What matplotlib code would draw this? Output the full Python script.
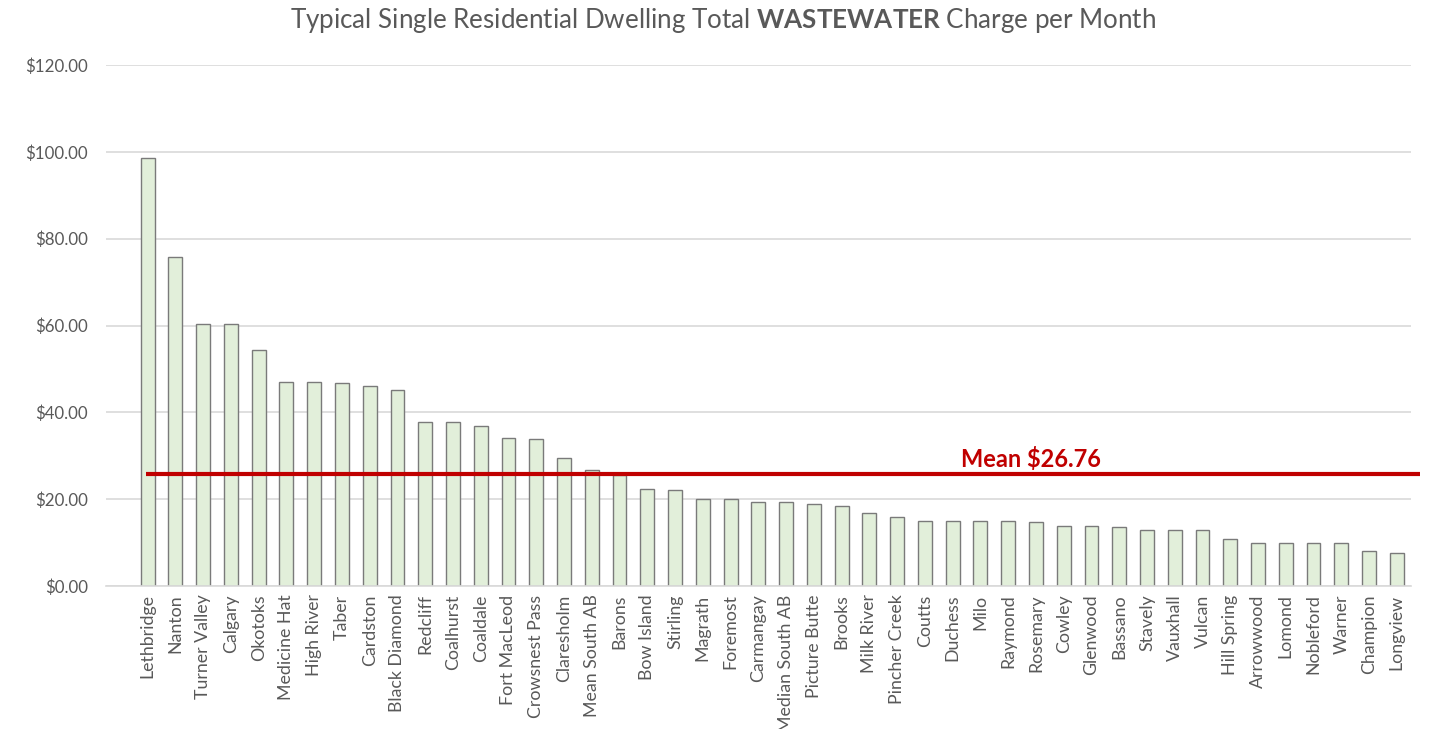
import matplotlib.pyplot as plt
import matplotlib.ticker as ticker

# towns and monthly wastewater charge ($)
towns = ["Lethbridge", "Nanton", "Turner Valley", "Calgary", "Okotoks", "Medicine Hat",
         "High River", "Taber", "Cardston", "Black Diamond", "Redcliff", "Coalhurst",
         "Coaldale", "Fort MacLeod", "Crowsnest Pass", "Claresholm", "Mean South AB",
         "Barons", "Bow Island", "Stirling", "Magrath", "Foremost", "Carmangay",
         "Median South AB", "Picture Butte", "Brooks", "Milk River", "Pincher Creek",
         "Coutts", "Duchess", "Milo", "Raymond", "Rosemary", "Cowley", "Glenwood",
         "Bassano", "Stavely", "Vauxhall", "Vulcan", "Hill Spring", "Arrowwood",
         "Lomond", "Nobleford", "Warner", "Champion", "Longview"]
charges = [98.5, 75.8, 60.4, 60.3, 54.3, 47.06, 47.06, 46.85, 46.07, 45.07, 37.8, 37.8,
           36.9, 34.0, 33.9, 29.5, 26.76, 25.7, 22.25, 22.1, 20.0, 20.0, 19.4,
           19.4, 18.8, 18.5, 16.8, 16.0, 15.0, 15.0, 15.0, 15.0, 14.7, 13.95, 13.95,
           13.6, 12.95, 12.95, 12.95, 10.9, 10.0, 10.0, 10.0, 10.0, 8.0, 7.6]

mean_line = 25.9
mean_label = "Mean $26.76"
yticks = [0, 20, 40, 60, 80, 100, 120]

plt.rcParams['font.family'] = ['Lato', 'DejaVu Sans']
plt.rcParams['mathtext.fontset'] = 'custom'
plt.rcParams['mathtext.rm'] = 'Lato'
plt.rcParams['mathtext.bf'] = 'Lato:bold'

fig = plt.figure(figsize=(14.38, 7.29), dpi=100)
ax = fig.add_axes([0.0737, 0.196, 0.9073, 0.7148])

x = list(range(len(towns)))
ax.bar(x, charges, width=0.5, color="#E2EFDA", edgecolor="#7A7A7A", linewidth=1, zorder=2)

# mean line drawn across the chart
ax.plot([-0.05, 45.85], [mean_line, mean_line], color="#C00000", linewidth=3,
        zorder=3, clip_on=False, solid_capstyle="butt")
ax.text(29.3, 29.3, mean_label, color="#C00000", fontsize=17, fontweight="bold",
        ha="left", va="center", zorder=4)

ax.set_xlim(-1.5, 45.5)
ax.set_ylim(0, 120)
ax.set_yticks(yticks)
ax.yaxis.set_major_formatter(ticker.FuncFormatter(lambda v, p: "${:.2f}".format(v)))
ax.set_xticks(x)
ax.set_xticklabels(towns, rotation=90, fontsize=12.8, color="#595959")
ax.tick_params(axis="y", labelsize=12.2, colors="#595959", length=0, pad=13)
ax.tick_params(axis="x", length=0, pad=6)

ax.grid(axis="y", color="#D9D9D9", linewidth=1.2, zorder=0)
ax.set_axisbelow(True)
for side in ["top", "right", "left"]:
    ax.spines[side].set_visible(False)
ax.spines["bottom"].set_color("#D9D9D9")
ax.spines["bottom"].set_linewidth(1.2)

fig.text(0.503, 0.972, "Typical Single Residential Dwelling Total $\\bf{WASTEWATER}$ Charge per Month",
         ha="center", va="center", fontsize=18.7, color="#595959")

fig.savefig("out.png", dpi=100)
